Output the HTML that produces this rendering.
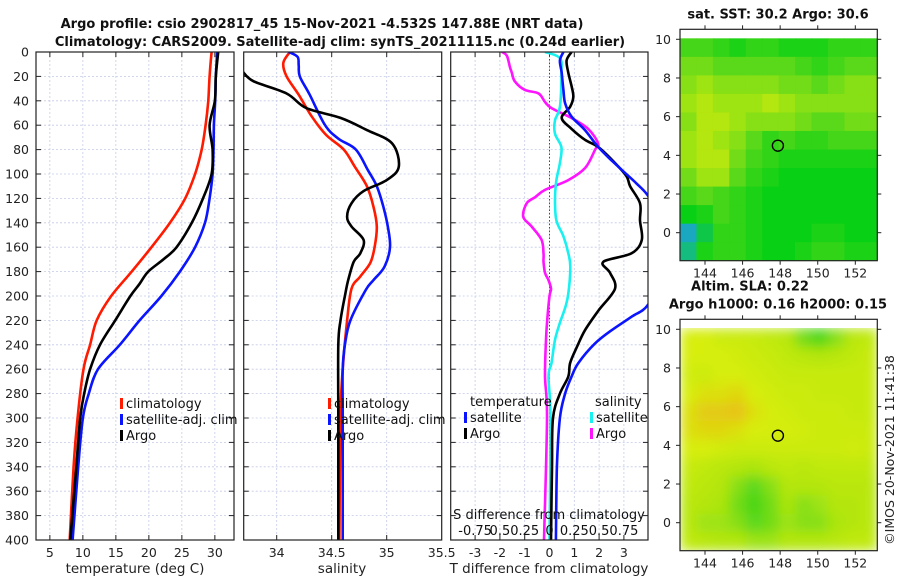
<!DOCTYPE html>
<html><head><meta charset="utf-8">
<style>
html,body{margin:0;padding:0;background:#fff;}
svg{display:block;font-family:"DejaVu Sans","Liberation Sans",sans-serif;}
.tk{font-size:12.5px;fill:#222;}
.ttl{font-size:13px;font-weight:bold;fill:#111;}
.lg{font-size:13px;fill:#111;}
</style></head>
<body>
<svg id="fig" width="900" height="580" viewBox="0 0 900 580" xmlns="http://www.w3.org/2000/svg">
<defs>
<clipPath id="c1"><rect x="36" y="52" width="198" height="488"/></clipPath>
<clipPath id="c2"><rect x="243.7" y="52" width="198" height="488"/></clipPath>
<clipPath id="c3"><rect x="450.7" y="52" width="197.3" height="488"/></clipPath>
<clipPath id="cm1"><rect x="680" y="37.3" width="197.3" height="223.4"/></clipPath>
<clipPath id="cm2"><rect x="680" y="327.3" width="197.3" height="223.4"/></clipPath>
<filter id="blur" x="0" y="0" width="1" height="1"><feGaussianBlur stdDeviation="6" edgeMode="duplicate"/></filter>
</defs>
<text class="ttl" x="322" y="28" text-anchor="middle">Argo profile: csio 2902817_45 15-Nov-2021 -4.532S 147.88E (NRT data)</text>
<text class="ttl" x="340" y="46" text-anchor="middle">Climatology: CARS2009. Satellite-adj clim: synTS_20211115.nc (0.24d earlier)</text>
<g id="g1"></g>
<g id="g2"></g>
<g id="g3"></g>
<g id="m1"></g>
<g id="m2"></g>
<text class="tk" x="0" y="0" transform="translate(894,450) rotate(-90)" text-anchor="middle">©IMOS 20-Nov-2021 11:41:38</text>
</svg>
<script>
// ---------- data ----------
const depthTicks = [0,20,40,60,80,100,120,140,160,180,200,220,240,260,280,300,320,340,360,380,400];
const tTicks = [5,10,15,20,25,30];
const sTicks = [34,34.5,35,35.5];
const dTicks = [-3,-2,-1,0,1,2,3];
const dsTicks = [-0.75,-0.5,-0.25,0,0.25,0.5,0.75];
const dsTickLabels = ["-0.75","0.5","0.25","0","0.25","0.5","0.75"];

// temperature profiles
const climTDepth = [0,20,40,60,80,100,120,140,160,180,200,220,240,260,300,340,400];
const climT = [29.5,29.2,29.0,28.6,28.0,27.0,25.5,23.2,20.4,17.4,14.3,12.1,11.1,10.1,9.2,8.6,8.0];
const satTDepth = [0,20,40,60,80,100,120,140,160,180,200,220,240,260,280,300,340,400];
const satT = [30.35,30.15,30.05,29.85,29.8,29.65,29.2,28.5,27.0,24.7,21.9,18.6,15.6,12.3,10.9,10.0,9.3,8.45];
const argoTDepth = [0,20,40,60,80,100,120,140,160,170,180,190,200,220,240,260,280,300,340,400];
const argoT = [30.5,30.15,30.0,29.2,29.65,29.5,28.2,26.5,24.2,22.2,19.9,18.6,17.2,14.9,12.6,11.1,10.2,9.6,9.0,8.1];

// salinity profiles
const climSDepth = [0,9,20,35,53,68,80,94,110,127,143,160,173,184,194,220,260,300,400];
const climS = [34.12,34.06,34.09,34.2,34.32,34.45,34.61,34.71,34.82,34.88,34.91,34.89,34.85,34.76,34.68,34.64,34.6,34.58,34.57];
const satSDepth = [0,4,11,20,35,60,71,80,97,110,127,143,160,176,187,195,220,240,260,300,400];
const satS = [34.11,34.19,34.2,34.21,34.3,34.44,34.56,34.72,34.83,34.91,34.97,35.01,35.03,34.98,34.88,34.81,34.67,34.62,34.6,34.6,34.6];
const argoSDepth = [16,24,34,46,54,64,75,94,105,114,124,135,143,154,165,172,187,200,220,240,300,400];
const argoS = [33.69,33.79,34.09,34.27,34.58,34.82,35.05,35.11,35.0,34.79,34.68,34.64,34.68,34.79,34.76,34.7,34.65,34.62,34.58,34.56,34.56,34.56];

// differences from climatology
const dTsatDepth = [0,7,17,31,42,53,64,78,89,99,108,118,140,160,180,207,217,228,239,255,266,280,300,340,400];
const dTsat = [0.56,0.42,0.49,0.56,0.63,0.89,1.43,1.97,2.51,3.04,3.52,3.98,4.6,4.8,4.6,3.98,3.31,2.51,1.83,1.16,0.89,0.63,0.42,0.3,0.26];
const dTargoDepth = [0,7,17,28,37,45,54,63,72,78,91,102,110,124,138,154,165,172,181,194,212,228,242,255,266,280,300,340,400];
const dTargo = [0.89,0.69,0.76,0.89,0.96,0.83,0.49,0.89,1.43,1.97,2.64,3.11,3.25,3.65,3.65,3.72,3.31,2.17,2.44,2.64,1.97,1.43,1.1,0.83,0.76,0.42,0.14,0.1,0.06];
const dSsatDepth = [0,5,17,45,56,67,78,91,105,121,138,151,165,176,198,209,222,236,255,266,300,400];
const dSsat = [-0.045,0.105,0.12,0.105,0.055,0.055,0.12,0.105,0.07,0.055,0.07,0.14,0.19,0.21,0.19,0.16,0.105,0.055,0.02,-0.01,0.01,0.0];
const dSargoDepth = [0,3,12,17,24,31,34,41,46,54,63,75,80,95,105,113,119,124,135,143,154,165,172,181,187,194,200,217,236,266,300,400];
const dSargo = [-0.48,-0.43,-0.40,-0.38,-0.35,-0.25,-0.11,-0.045,0.02,0.22,0.39,0.49,0.46,0.36,0.19,-0.045,-0.145,-0.23,-0.265,-0.18,-0.08,-0.06,-0.06,-0.045,-0.01,0.015,0,-0.02,-0.035,-0.045,-0.025,-0.055];

// maps
const lonTicks = [144,146,148,150,152];
const latTicks = [0,2,4,6,8,10];
const argoLon = 147.88, argoLat = 4.5;
const sstGrid = [
[0.45,0.45,0.4,0.35,0.4,0.4,0.35,0.35,0.35,0.4,0.4,0.4],
[0.55,0.55,0.5,0.5,0.5,0.5,0.5,0.45,0.4,0.45,0.5,0.5],
[0.6,0.65,0.6,0.6,0.6,0.6,0.55,0.55,0.5,0.55,0.6,0.6],
[0.65,0.7,0.65,0.65,0.65,0.7,0.65,0.6,0.6,0.6,0.6,0.6],
[0.6,0.7,0.7,0.65,0.6,0.6,0.6,0.55,0.5,0.5,0.55,0.55],
[0.65,0.7,0.65,0.6,0.5,0.4,0.45,0.4,0.4,0.45,0.45,0.45],
[0.65,0.7,0.7,0.55,0.45,0.4,0.35,0.35,0.35,0.35,0.35,0.35],
[0.55,0.65,0.65,0.5,0.4,0.35,0.3,0.3,0.3,0.3,0.3,0.3],
[0.45,0.5,0.45,0.4,0.35,0.3,0.3,0.3,0.3,0.3,0.3,0.3],
[0.3,0.35,0.45,0.4,0.35,0.3,0.3,0.3,0.3,0.3,0.3,0.3],
[0.1,0.25,0.4,0.4,0.35,0.3,0.3,0.3,0.35,0.35,0.3,0.3],
[0.2,0.35,0.4,0.4,0.35,0.3,0.3,0.35,0.4,0.4,0.35,0.35]];
const slaGrid = [
[0.85,0.85,0.8,0.8,0.78,0.75,0.72,0.55,0.45,0.6,0.72,0.75],
[0.85,0.85,0.85,0.82,0.8,0.78,0.75,0.72,0.7,0.72,0.75,0.78],
[0.82,0.8,0.85,0.85,0.82,0.8,0.78,0.78,0.78,0.78,0.78,0.78],
[0.85,0.88,0.88,0.9,0.85,0.82,0.8,0.8,0.78,0.78,0.78,0.78],
[0.88,0.93,0.93,0.95,0.88,0.84,0.82,0.8,0.8,0.8,0.78,0.78],
[0.88,0.9,0.9,0.88,0.85,0.84,0.84,0.82,0.8,0.8,0.8,0.8],
[0.85,0.85,0.82,0.8,0.8,0.8,0.8,0.8,0.8,0.8,0.82,0.8],
[0.78,0.75,0.72,0.7,0.68,0.72,0.75,0.72,0.75,0.75,0.75,0.75],
[0.75,0.72,0.7,0.6,0.5,0.6,0.7,0.7,0.7,0.72,0.72,0.72],
[0.72,0.7,0.68,0.55,0.45,0.55,0.68,0.6,0.65,0.7,0.7,0.72],
[0.72,0.65,0.65,0.6,0.5,0.55,0.65,0.6,0.6,0.68,0.7,0.72],
[0.75,0.72,0.7,0.7,0.65,0.65,0.7,0.7,0.7,0.72,0.75,0.75]];

// ---------- helpers ----------
const NS = "http://www.w3.org/2000/svg";
function mk(parent, tag, attrs, txt){
  const e = document.createElementNS(NS, tag);
  for (const k in attrs) e.setAttribute(k, attrs[k]);
  if (txt !== undefined) e.textContent = txt;
  parent.appendChild(e);
  return e;
}
const Y0 = 52, Y1 = 540;
const yD = d => Y0 + d * (Y1 - Y0) / 400;
function lin(d0, d1, r0, r1){ return v => r0 + (v - d0) * (r1 - r0) / (d1 - d0); }

function panel(g, x0, x1, xs, xt, xlabels, clip, title, titleX, showY){
  mk(g,'rect',{x:x0,y:Y0,width:x1-x0,height:Y1-Y0,fill:'#fff'});
  depthTicks.forEach(d=>{
    const gl = mk(g,'line',{x1:x0,x2:x1,y1:yD(d),y2:yD(d),stroke:'#c4cbe6','stroke-width':0.8,'stroke-dasharray':'2,2'});
    
    
    mk(g,'line',{x1:x0,x2:x0+5,y1:yD(d),y2:yD(d),stroke:'#222','stroke-width':1});
    mk(g,'line',{x1:x1-5,x2:x1,y1:yD(d),y2:yD(d),stroke:'#222','stroke-width':1});
    if (showY){
      const t = mk(g,'text',{x:x0-7,y:yD(d)+4.5,'text-anchor':'end',class:'tk'}, String(d));
      
      
    }
  });
  xt.forEach((v,i)=>{
    const x = xs(v);
    if (x > x0+1 && x < x1-1){
      mk(g,'line',{x1:x,x2:x,y1:Y0,y2:Y1,stroke:'#c4cbe6','stroke-width':0.8,'stroke-dasharray':'2,2'});
      mk(g,'line',{x1:x,x2:x,y1:Y1-5,y2:Y1,stroke:'#222','stroke-width':1});
      mk(g,'line',{x1:x,x2:x,y1:Y0,y2:Y0+5,stroke:'#222','stroke-width':1});
    }
    const t = mk(g,'text',{x:x,y:557,'text-anchor':'middle',class:'tk'}, xlabels[i]);
    
    
  });
  const at = mk(g,'text',{x:titleX,y:573,'text-anchor':'middle',class:'tk',style:'font-size:13.5px'}, title);
  
  
}
function smoothPath(P){
  let d = 'M'+P[0][0].toFixed(1)+','+P[0][1].toFixed(1);
  for (let i=0;i<P.length-1;i++){
    const p0=P[Math.max(0,i-1)], p1=P[i], p2=P[i+1], p3=P[Math.min(P.length-1,i+2)];
    const c1=[p1[0]+(p2[0]-p0[0])/6, p1[1]+(p2[1]-p0[1])/6];
    const c2=[p2[0]-(p3[0]-p1[0])/6, p2[1]-(p3[1]-p1[1])/6];
    d += ' C'+c1[0].toFixed(1)+','+c1[1].toFixed(1)+' '+c2[0].toFixed(1)+','+c2[1].toFixed(1)+' '+p2[0].toFixed(1)+','+p2[1].toFixed(1);
  }
  return d;
}
function series(g, clip, xs, depths, vals, color, name){
  const P = vals.map((v,i)=>[xs(v), yD(depths[i])]);
  const p = mk(g,'path',{d:smoothPath(P),fill:'none',stroke:color,'stroke-width':2.6,'stroke-linejoin':'round','clip-path':'url(#'+clip+')'});
  
  
}
function frame(g,x0,x1){
  mk(g,'rect',{x:x0,y:Y0,width:x1-x0,height:Y1-Y0,fill:'none',stroke:'#222','stroke-width':1.2});
}
function legend(g, x, y, color, label, name){
  const m = mk(g,'rect',{x:x,y:y-10,width:3,height:11,fill:color});
  
  
  const t = mk(g,'text',{x:x+6,y:y,class:'lg'}, label);
  
  
}

// ---------- panel 1 ----------
const g1 = document.getElementById('g1');
const xT = lin(2.9, 32.9, 36, 234);
panel(g1, 36, 234, xT, tTicks, tTicks.map(String), 'c1', 'temperature (deg C)', 135, true);
series(g1,'c1',xT,climTDepth,climT,'#ff1a00','climatology-temperature-line');
series(g1,'c1',xT,satTDepth,satT,'#0a14ff','satellite-temperature-line');
series(g1,'c1',xT,argoTDepth,argoT,'#000','argo-temperature-line');
legend(g1,120,408,'#ff1a00','climatology','legend-climatology');
legend(g1,120,424,'#0a14ff','satellite-adj. clim','legend-satellite');
legend(g1,120,440,'#000','Argo','legend-argo');
frame(g1,36,234);

// ---------- panel 2 ----------
const g2 = document.getElementById('g2');
const xS = lin(33.7, 35.5, 243.7, 441.7);
panel(g2, 243.7, 441.7, xS, sTicks, sTicks.map(String), 'c2', 'salinity', 342, false);
series(g2,'c2',xS,climSDepth,climS,'#ff1a00','climatology-salinity-line');
series(g2,'c2',xS,satSDepth,satS,'#0a14ff','satellite-salinity-line');
series(g2,'c2',xS,argoSDepth,argoS,'#000','argo-salinity-line');
legend(g2,328,408,'#ff1a00','climatology','legend-climatology-s');
legend(g2,328,424,'#0a14ff','satellite-adj. clim','legend-satellite-s');
legend(g2,328,440,'#000','Argo','legend-argo-s');
frame(g2,243.7,441.7);

// ---------- panel 3 ----------
const g3 = document.getElementById('g3');
const xDT = lin(0, 1, 549.5, 574.3);
const xDS = lin(0, 0.25, 549.5, 574.3);
panel(g3, 450.7, 648, xDT, dTicks, dTicks.map(String), 'c3', 'T difference from climatology', 549, false);
const zl = mk(g3,'line',{x1:xDT(0),x2:xDT(0),y1:Y0,y2:Y1,stroke:'#5a4a2a','stroke-width':1,'stroke-dasharray':'1.5,2'});


series(g3,'c3',xDS,dSargoDepth,dSargo,'#ff14ff','argo-salinity-diff-line');
series(g3,'c3',xDS,dSsatDepth,dSsat,'#19f0f0','satellite-salinity-diff-line');
series(g3,'c3',xDT,dTargoDepth,dTargo,'#000','argo-temperature-diff-line');
series(g3,'c3',xDT,dTsatDepth,dTsat,'#0a14ff','satellite-temperature-diff-line');
mk(g3,'text',{x:470,y:406,class:'lg'},'temperature');
mk(g3,'text',{x:595,y:406,class:'lg'},'salinity');
legend(g3,464,422,'#0a14ff','satellite','legend-t-satellite');
legend(g3,464,438,'#000','Argo','legend-t-argo');
legend(g3,590,422,'#19f0f0','satellite','legend-s-satellite');
legend(g3,590,438,'#ff14ff','Argo','legend-s-argo');
const st = mk(g3,'text',{x:549,y:519,'text-anchor':'middle',class:'lg'},'S difference from climatology');


dsTicks.forEach((v,i)=>{
  const t = mk(g3,'text',{x:xDS(v),y:535,'text-anchor':'middle',class:'lg'}, dsTickLabels[i]);
  
  
});
frame(g3,450.7,648);

// ---------- maps ----------
function cmap(v){
  const stops = [[0,[26,143,216]],[0.15,[26,180,180]],[0.3,[8,208,20]],[0.5,[90,216,26]],[0.7,[180,230,15]],[0.85,[215,238,10]],[1,[240,170,30]]];
  for (let i=1;i<stops.length;i++){
    if (v <= stops[i][0]){
      const a=stops[i-1], b=stops[i], f=(v-a[0])/(b[0]-a[0]);
      const c=a[1].map((x,k)=>Math.round(x+(b[1][k]-x)*f));
      return 'rgb('+c.join(',')+')';
    }
  }
  return 'rgb(240,170,30)';
}
function map(id, top, grid, clipId, title1, title2, blur){
  const g = document.getElementById(id);
  const x0=680, x1=877.3, yTop=top, yBot=top+231.4;
  const xl = lin(142.67, 153.17, x0, x1);
  const yl = lin(0, 10, top+203.4, top+10);
  const dataTop = yl(10.05), dataBot = yBot;
  mk(g,'rect',{x:x0,y:yTop,width:x1-x0,height:yBot-yTop,fill:'#fff'});
  const cg = mk(g,'g',{'clip-path':'url(#'+clipId+')'});
  const inner = mk(cg,'g', blur ? {filter:'url(#blur)'} : {});
  const rows = grid.length, cols = grid[0].length;
  const cw = (x1-x0)/cols, ch = (dataBot-dataTop)/rows;
  grid.forEach((row,r)=>row.forEach((v,c)=>{
    const cell = mk(inner,'rect',{x:(x0+c*cw).toFixed(2),y:(dataTop+r*ch).toFixed(2),width:(cw+0.6).toFixed(2),height:(ch+0.6).toFixed(2),fill:cmap(v)});
    
    
  }));
  latTicks.forEach(v=>{
    const y=yl(v);
    mk(g,'line',{x1:x0,x2:x0-4,y1:y,y2:y,stroke:'#222'});
    mk(g,'line',{x1:x1,x2:x1+4,y1:y,y2:y,stroke:'#222'});
    const t=mk(g,'text',{x:x0-9,y:y+4.5,'text-anchor':'end',class:'tk'},String(v));
    
    
  });
  lonTicks.forEach(v=>{
    const x=xl(v);
    mk(g,'line',{x1:x,x2:x,y1:yBot,y2:yBot+4,stroke:'#222'});
    mk(g,'line',{x1:x,x2:x,y1:yTop,y2:yTop-4,stroke:'#222'});
    const t=mk(g,'text',{x:x,y:yBot+17,'text-anchor':'middle',class:'tk'},String(v));
    
    
  });
  const circ = mk(g,'circle',{cx:xl(argoLon),cy:yl(argoLat),r:5.5,fill:'none',stroke:'#000','stroke-width':1.4});
  
  
  mk(g,'rect',{x:x0,y:yTop,width:x1-x0,height:yBot-yTop,fill:'none',stroke:'#222','stroke-width':1.2});
  if (title2){
    const t1=mk(g,'text',{x:750,y:top-29,'text-anchor':'middle',class:'ttl'},title1);
    
    
    const t2=mk(g,'text',{x:778,y:top-11,'text-anchor':'middle',class:'ttl'},title2);
    
    
  } else {
    const t1=mk(g,'text',{x:778,y:top-11,'text-anchor':'middle',class:'ttl'},title1);
    
    
  }
}
map('m1', 29.3, sstGrid, 'cm1', 'sat. SST: 30.2 Argo: 30.6', null, false);
map('m2', 319.3, slaGrid, 'cm2', 'Altim. SLA: 0.22', 'Argo h1000: 0.16 h2000: 0.15', true);
</script>
</body></html>
